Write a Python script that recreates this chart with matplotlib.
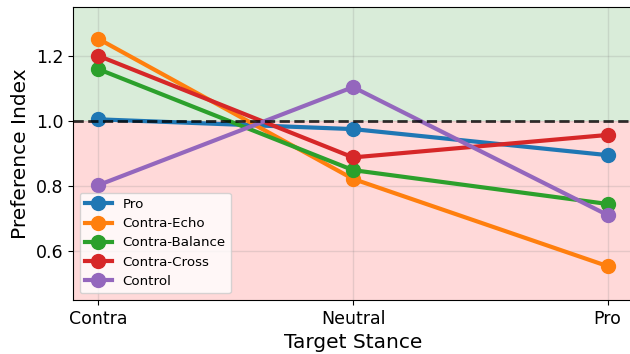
import numpy as np
import matplotlib
matplotlib.use("Agg")
import matplotlib.pyplot as plt

# data
stances = ["Contra", "Neutral", "Pro"]
pro = [1.005, 0.975, 0.895]
contra_echo = [1.252, 0.822, 0.554]
contra_balance = [1.159, 0.849, 0.745]
contra_cross = [1.200, 0.888, 0.957]
control = [0.803, 1.104, 0.711]

series = [
    ("Pro", pro, "#1f77b4"),
    ("Contra-Echo", contra_echo, "#ff7f0e"),
    ("Contra-Balance", contra_balance, "#2ca02c"),
    ("Contra-Cross", contra_cross, "#d62728"),
    ("Control", control, "#9467bd"),
]

fig = plt.figure(figsize=(6.3, 3.54), dpi=100)
ax = fig.add_axes([0.1159, 0.1525, 0.889, 0.8277])

x = np.arange(len(stances))
ax.set_xlim(-0.1, 2.1)
ax.set_ylim(0.45, 1.35)

# shaded regions above / below parity
ax.axhspan(1.0, 1.35, color="green", alpha=0.15, lw=0, zorder=0)
ax.axhspan(0.45, 1.0, color="red", alpha=0.15, lw=0, zorder=0)

ax.grid(True, color="gray", alpha=0.2, lw=1, zorder=1)

for name, vals, c in series:
    ax.plot(x, vals, marker="o", color=c, lw=3, markersize=10, label=name, zorder=3)

ax.axhline(1.0, color="black", ls="--", lw=2, alpha=0.8, zorder=4)

ax.set_xticks(x)
ax.set_xticklabels(stances)
ax.set_yticks([0.6, 0.8, 1.0, 1.2])
ax.tick_params(labelsize=12.5)
ax.set_xlabel("Target Stance", fontsize=14.5)
ax.set_ylabel("Preference Index", fontsize=14.5)

ax.legend(loc="lower left", fontsize=9.6, labelspacing=0.47, framealpha=0.8)

fig.savefig("out.png", dpi=100)
